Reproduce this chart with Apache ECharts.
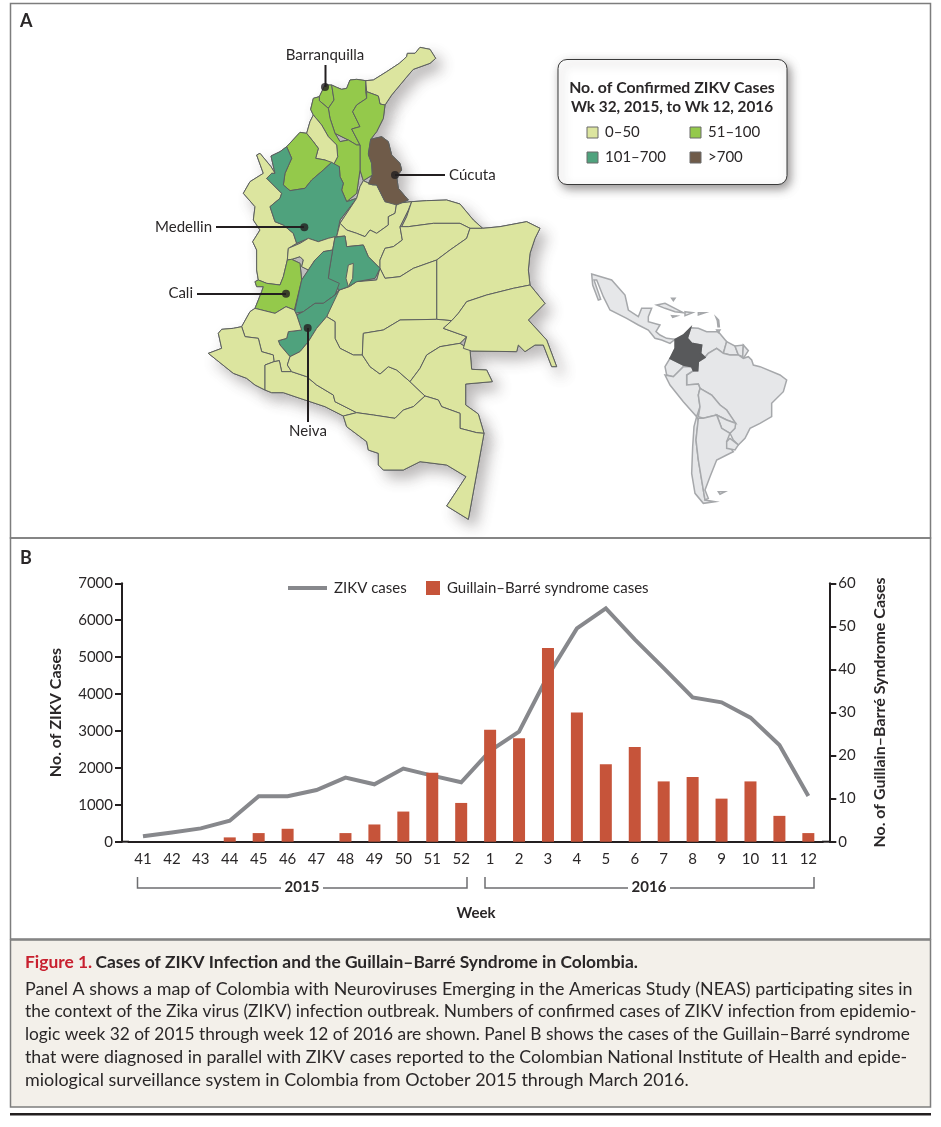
<!DOCTYPE html>
<html><head><meta charset="utf-8">
<style>html,body{margin:0;padding:0;background:#fff}#c{width:941px;height:1127px}</style>
<script src="https://cdn.jsdelivr.net/npm/echarts@6/dist/echarts.min.js"></script>
</head><body><div id="c"></div>
<script>
// ---- Panel B data
const weeks = ['41','42','43','44','45','46','47','48','49','50','51','52','1','2','3','4','5','6','7','8','9','10','11','12'];
const zikvCases = [145,250,360,570,1230,1230,1400,1735,1555,1980,1790,1610,2460,2980,4500,5780,6320,5480,4700,3910,3775,3360,2620,1240];
const gbsCases = [null,null,null,1,2,3,null,2,4,7,16,9,26,24,45,30,18,22,14,15,10,14,6,2];
const leftTicksMax = 7000, rightTicksMax = 60;
// ---- Panel A data
const bandLabels = ['0–50','51–100','101–700','>700'];
const bandColors = ['#dce59f','#94c94b','#4fa27d','#6f5b49'];
const departments = [
 ['La Guajira',0,[[497,152],[520,150],[560,125],[598,100],[620,80],[622,70],[645,70],[660,52],[690,58],[707,85],[690,100],[640,118],[625,135],[600,165],[575,195],[555,225],[540,222],[535,198],[500,185]]],
 ['Atlántico',1,[[358,200],[375,165],[395,165],[402,210],[385,235],[358,212]]],
 ['Magdalena',1,[[395,165],[410,172],[425,178],[440,175],[450,150],[470,148],[497,152],[497,185],[500,205],[470,225],[458,245],[480,290],[455,297],[480,345],[470,345],[445,330],[405,310],[390,265],[385,235],[402,210]]],
 ['Cesar',1,[[500,185],[535,198],[540,222],[555,225],[550,265],[530,305],[512,328],[505,370],[515,400],[517,435],[490,452],[480,420],[480,345],[455,297],[480,290],[458,245],[470,225],[500,205]]],
 ['Bolívar',1,[[358,200],[358,212],[385,235],[390,265],[405,310],[420,335],[445,330],[470,345],[480,345],[480,420],[470,490],[440,515],[425,480],[430,460],[420,440],[418,410],[400,405],[413,380],[410,345],[385,320],[365,285],[340,255],[332,238],[340,205]]],
 ['Sucre',0,[[340,255],[365,285],[385,320],[410,345],[413,380],[400,405],[375,390],[347,385],[355,355],[340,335],[320,310],[330,275]]],
 ['Córdoba',1,[[300,307],[320,310],[340,335],[355,355],[347,385],[375,390],[395,397],[370,420],[335,450],[315,475],[270,482],[250,465],[255,430],[275,385],[260,350]]],
 ['Chocó',0,[[170,375],[180,370],[213,410],[225,430],[215,430],[200,445],[245,490],[240,505],[210,530],[225,575],[250,585],[280,610],[290,640],[265,655],[262,690],[250,740],[240,765],[200,760],[175,750],[170,720],[170,660],[158,635],[180,600],[160,570],[165,530],[130,490],[150,455],[190,430]]],
 ['Antioquia',2,[[260,350],[275,385],[255,430],[250,465],[270,482],[315,475],[335,450],[370,420],[395,397],[418,410],[420,440],[430,460],[425,480],[440,515],[470,505],[420,570],[410,620],[385,625],[355,635],[325,625],[290,640],[280,610],[250,585],[225,575],[210,530],[240,505],[245,490],[200,445],[215,430],[225,430],[213,378],[240,365]]],
 ['Caldas',0,[[265,655],[300,640],[325,625],[355,635],[385,625],[405,620],[398,660],[370,665],[345,690],[325,720],[305,710],[310,690],[300,680],[275,688],[262,690]]],
 ['Valle del Cauca',1,[[262,690],[275,688],[300,700],[305,750],[283,840],[258,830],[225,850],[165,835],[185,785],[190,770],[170,770],[165,755],[175,750],[200,760],[240,765],[250,740]]],
 ['Santander',0,[[490,452],[517,465],[530,465],[555,515],[590,520],[585,550],[565,560],[565,585],[530,610],[510,600],[495,620],[470,610],[440,600],[420,580],[470,505],[480,470]]],
 ['Boyacá',0,[[590,520],[635,515],[625,540],[600,590],[607,630],[580,650],[555,655],[540,690],[540,715],[505,680],[490,645],[440,650],[435,618],[410,620],[420,580],[440,600],[470,610],[495,620],[510,600],[530,610],[565,585],[565,560],[585,550]]],
 ['Norte de Santander',3,[[545,320],[565,335],[575,375],[600,400],[605,420],[590,440],[595,475],[625,510],[590,525],[555,515],[530,465],[505,462],[517,435],[515,400],[505,375],[512,328]]],
 ['Arauca',0,[[635,515],[680,512],[740,510],[780,522],[820,570],[848,595],[810,595],[780,580],[700,580],[625,590],[605,590],[620,560]]],
 ['Casanare',0,[[605,590],[625,590],[700,580],[780,580],[810,595],[800,625],[750,660],[710,690],[640,715],[600,740],[555,745],[540,715],[540,690],[555,655],[580,650],[607,630],[600,590]]],
 ['Vichada',0,[[810,595],[848,595],[900,590],[980,575],[1020,595],[1005,625],[990,670],[985,720],[990,765],[940,775],[860,795],[800,815],[775,850],[755,872],[710,868],[710,690],[750,660],[800,625]]],
 ['Meta',0,[[530,750],[470,755],[448,770],[418,780],[405,795],[380,860],[405,875],[405,925],[420,955],[460,975],[487,975],[490,910],[550,900],[600,870],[710,868],[710,690],[640,715],[600,740],[555,745],[540,715]]],
 ['Cundinamarca',2,[[398,660],[405,622],[435,618],[440,650],[490,645],[505,680],[540,715],[525,745],[470,755],[445,770],[418,780],[385,745],[388,720]]],
 ['Bogotá',0,[[445,705],[460,700],[458,745],[445,770],[438,745]]],
 ['Tolima',2,[[345,690],[370,665],[398,660],[388,720],[385,745],[418,760],[405,795],[370,820],[345,820],[310,845],[283,850],[305,750],[325,720]]],
 ['Huila',2,[[370,820],[405,795],[418,780],[380,860],[350,895],[325,935],[300,965],[270,980],[240,945],[235,932],[260,925],[265,905],[305,900],[290,855],[310,845],[345,820]]],
 ['Cauca',0,[[165,835],[225,850],[258,830],[283,840],[290,855],[305,900],[265,905],[260,925],[235,932],[240,945],[270,980],[262,1005],[275,1025],[245,1025],[238,992],[222,995],[220,975],[185,965],[175,925],[135,920],[125,890],[150,845]]],
 ['Nariño',0,[[125,890],[135,920],[175,925],[185,965],[220,975],[222,995],[195,1005],[195,1080],[165,1065],[140,1045],[100,1030],[50,990],[25,970],[65,955],[55,910],[65,898],[100,895]]],
 ['Putumayo',0,[[195,1005],[222,995],[238,992],[245,1025],[275,1025],[320,1040],[350,1065],[400,1095],[405,1115],[470,1148],[430,1158],[375,1130],[330,1115],[285,1100],[250,1088],[215,1088],[195,1080]]],
 ['Caquetá',0,[[270,980],[300,965],[325,935],[350,895],[380,860],[405,875],[405,925],[420,955],[460,975],[487,975],[510,1010],[540,1032],[565,1010],[590,1020],[630,1055],[675,1098],[640,1130],[610,1140],[585,1165],[520,1155],[470,1148],[405,1115],[400,1095],[350,1065],[320,1040],[275,1025],[262,1005]]],
 ['Guaviare',0,[[490,910],[550,900],[600,870],[710,868],[755,872],[730,895],[800,920],[780,940],[720,950],[680,975],[660,1015],[630,1055],[590,1020],[565,1010],[540,1032],[510,1010],[487,975]]],
 ['Vaupés',0,[[630,1055],[660,1015],[680,975],[720,950],[780,940],[810,960],[815,1018],[860,1020],[877,1055],[797,1062],[797,1125],[835,1152],[852,1210],[830,1208],[780,1195],[780,1150],[725,1130],[715,1110],[675,1098]]],
 ['Guainía',0,[[755,872],[775,850],[800,815],[860,795],[940,775],[990,765],[1035,820],[985,870],[1040,930],[1070,1010],[1055,1010],[1030,945],[1005,945],[975,965],[955,945],[950,965],[815,963],[790,955],[800,920],[730,895]]],
 ['Amazonas',0,[[430,1158],[470,1148],[520,1155],[585,1165],[610,1140],[640,1130],[675,1098],[715,1110],[725,1130],[780,1150],[780,1195],[830,1208],[852,1210],[805,1468],[740,1428],[798,1340],[740,1305],[660,1295],[610,1320],[550,1320],[535,1305],[535,1270],[505,1260],[500,1235],[440,1190]]]
];
const cityNames = ['Barranquilla','Cúcuta','Medellin','Cali','Neiva'];
const cityPoints = [[375,171],[585,435],[313,592],[258,791],[323,894]];
const latam = [
 ['Mexico and Central America',[[65,42],[125,60],[165,105],[175,150],[205,170],[215,145],[245,145],[235,170],[235,185],[270,195],[258,215],[270,225],[290,235],[315,238],[300,250],[275,240],[255,235],[235,210],[205,195],[170,175],[120,150],[100,110],[80,60],[72,60],[92,118],[85,120],[68,75]]],
 ['Venezuela',[[362,203],[385,205],[410,215],[445,215],[470,245],[460,280],[440,265],[415,280],[405,292],[392,280],[395,255],[365,250],[352,235]]],
 ['Guyana',[[470,245],[495,258],[505,285],[480,285],[460,280]]],
 ['Suriname',[[495,258],[520,255],[518,290],[505,285]]],
 ['French Guiana',[[520,255],[535,272],[520,295],[518,290]]],
 ['Brazil',[[405,292],[415,280],[440,265],[460,280],[480,285],[505,285],[520,295],[535,290],[545,300],[550,315],[570,320],[630,345],[650,360],[640,395],[605,430],[605,470],[570,490],[540,505],[525,535],[505,555],[490,540],[480,520],[495,490],[470,450],[450,435],[425,405],[390,385],[385,372],[350,375],[350,345],[370,332],[383,332],[385,305]]],
 ['Ecuador',[[300,295],[340,315],[340,320],[310,350],[290,345],[285,320]]],
 ['Peru',[[285,345],[310,350],[340,320],[365,320],[370,332],[350,345],[350,375],[385,372],[390,385],[385,405],[390,440],[380,470],[340,425],[300,375]]],
 ['Bolivia',[[385,405],[390,385],[425,405],[450,435],[470,450],[497,490],[470,480],[440,465],[400,475],[385,470],[390,440]]],
 ['Paraguay',[[440,465],[470,480],[497,490],[495,505],[480,520],[455,505]]],
 ['Chile',[[380,470],[385,480],[378,540],[385,600],[395,660],[405,720],[435,725],[400,730],[375,700],[365,640],[368,560],[372,500]]],
 ['Argentina',[[385,475],[400,475],[440,465],[455,505],[480,520],[470,545],[478,560],[490,575],[470,585],[440,600],[420,650],[405,690],[415,715],[405,720],[395,660],[385,600],[378,540]]],
 ['Uruguay',[[480,535],[505,555],[495,570],[470,565],[470,545]]],
 ['Cuba',[[260,135],[285,130],[340,158],[315,155],[285,145]]],
 ['Hispaniola',[[345,155],[368,158],[345,167]]],
 ['Puerto Rico',[[385,158],[405,158],[385,165]]],
 ['Jamaica',[[305,167],[320,168],[308,172]]],
 ['Bahamas',[[305,115],[315,115],[310,122]]],
 ['Lesser Antilles',[[438,172],[446,180],[448,200],[444,200],[442,182]]],
 ['Trinidad',[[440,210],[450,210],[445,218]]],
 ['Falklands',[[445,695],[465,695],[450,703]]],
 ['Colombia',[[362,203],[352,235],[365,250],[395,255],[392,280],[405,292],[385,305],[383,332],[370,332],[365,320],[340,315],[300,295],[315,265],[315,238],[340,225]]]
];
const captionTitle = ['Figure 1.','Cases of ZIKV Infection and the Guillain–Barré Syndrome in Colombia.'];
const captionLines = [
 'Panel A shows a map of Colombia with Neuroviruses Emerging in the Americas Study (NEAS) participating sites in',
 'the context of the Zika virus (ZIKV) infection outbreak. Numbers of confirmed cases of ZIKV infection from epidemio-',
 'logic week 32 of 2015 through week 12 of 2016 are shown. Panel B shows the cases of the Guillain–Barré syndrome',
 'that were diagnosed in parallel with ZIKV cases reported to the Colombian National Institute of Health and epide-',
 'miological surveillance system in Colombia from October 2015 through March 2016.'
];
// the reference caption is justified: each line is fitted to its width
const captionFit = [1.016,0.985,0.984,1.008,1.02];
// ---- helpers
const fc = (list) => ({type:'FeatureCollection',features:list.map(d=>({type:'Feature',properties:{name:d.name},geometry:{type:'Polygon',coordinates:[d.ring.concat([d.ring[0]])]}}))});
echarts.registerMap('colombia', fc(departments.map(d=>({name:d[0],ring:d[2]}))));
echarts.registerMap('latam', fc(latam.map(d=>({name:d[0],ring:d[1]}))));
const identity = {project:p=>p, unproject:p=>p};
const FONT='Lato', INK='#2a2728';
const colBox = {left:0,top:0,width:941,height:1127,boundingCoords:[[-600,-90],[2223,3291]],projection:identity,aspectScale:1};
const latBox = {left:0,top:0,width:941,height:1127,boundingCoords:[[-1710,-780],[1113,2601]],projection:identity,aspectScale:1};
const txt=(text,x,y,size,opt={})=>({type:'text',x,y,z:60,silent:true,scaleX:opt.scaleX||1,style:{text,font:(opt.bold?'bold ':'')+size+'px '+FONT,fill:opt.fill||INK,align:opt.align||'left',verticalAlign:'middle'}});
const ln=(pts,w,color)=>({type:'polyline',z:55,silent:true,shape:{points:pts},style:{stroke:color,lineWidth:w,fill:null}});
const rect=(x,y,w,h,style,r,z)=>({type:'rect',z:z||40,silent:true,shape:{x,y,width:w,height:h,r:r||0},style});
const graphicEls=[
 // panel frames
 rect(10.5,3.5,920,534.5,{fill:'none',stroke:'#7d7d7d',lineWidth:1.5}),
 rect(10.5,538,920,401,{fill:'none',stroke:'#7d7d7d',lineWidth:1.5}),
 rect(10.5,940,920,167,{fill:'#f3f0ea',stroke:'#7d7d7d',lineWidth:1.5}),
 rect(10,1113,921,2.5,{fill:'#231f20'}),
 txt('A',20,21,18,{bold:true}), txt('B',20,558,18,{bold:true}),
 // map callouts
 txt(cityNames[0],325,55,15,{align:'center'}), ln([[325.5,65],[325.5,87]],2,'#231f20'),
 txt(cityNames[1],449,175,15), ln([[395,175],[445,175]],2,'#231f20'),
 txt(cityNames[2],212,227,15,{align:'right'}), ln([[216,227],[304,227]],2,'#231f20'),
 txt(cityNames[3],193,293,15,{align:'right'}), ln([[197,294],[286,294]],2,'#231f20'),
 txt(cityNames[4],308,431,15,{align:'center'}), ln([[308,328],[308,422]],2,'#231f20'),
 // map key
 rect(558,59.5,229,125,{fill:'#fff',stroke:'#3a3a3a',lineWidth:1,shadowBlur:10,shadowColor:'rgba(50,45,45,.5)',shadowOffsetX:3,shadowOffsetY:4},9,45),
 txt('No. of Confirmed ZIKV Cases',672,88,15.8,{bold:true,align:'center'}),
 txt('Wk 32, 2015, to Wk 12, 2016',672,107,15.3,{bold:true,align:'center'}),
 ...[[587,127],[690,127],[587,152],[690,152]].flatMap((p,i)=>[
   rect(p[0],p[1],11,11,{fill:bandColors[i],stroke:'#6a6a6a',lineWidth:1},0,55),
   txt(bandLabels[i],p[0]+18,p[1]+5.5,15)]),
 // bottom axis ends and year brackets
 rect(122,840.7,7,2,{fill:'#231f20'}), rect(822,840.7,8,2,{fill:'#231f20'}),
 ln([[137.5,877],[137.5,888],[281,888]],1.5,'#6d6e70'), ln([[323,888],[467,888],[467,877]],1.5,'#6d6e70'),
 ln([[485,877],[485,888],[628,888]],1.5,'#6d6e70'), ln([[670,888],[814,888],[814,877]],1.5,'#6d6e70'),
 txt('2015',302,887,15,{bold:true,align:'center'}), txt('2016',649,887,15,{bold:true,align:'center'}),
 txt('Week',476,913,15,{bold:true,align:'center'}),
 // caption
 {type:'text',x:25,y:962,z:60,silent:true,style:{text:'{r|'+captionTitle[0]+'} {b|'+captionTitle[1]+'}',verticalAlign:'middle',rich:{r:{font:'bold 17.4px '+FONT,fill:'#c8202f'},b:{font:'bold 17.4px '+FONT,fill:INK}}}},
 ...captionLines.map((t,i)=>txt(t,25,989+i*22.8,17.6,{scaleX:captionFit[i]}))
];
const axisLabel={margin:9,fontSize:15,color:INK,fontFamily:FONT,formatter:v=>String(v)};
const axisLine={show:true,lineStyle:{color:'#231f20',width:2}};
const axisTick={show:true,length:7,lineStyle:{color:'#231f20',width:2}};
const nameStyle={fontWeight:'bold',fontSize:16,color:INK,fontFamily:FONT};
const chart=echarts.init(document.getElementById('c'));
chart.setOption({
 animation:false,backgroundColor:'#fff',textStyle:{fontFamily:FONT},
 geo:Object.assign({map:'colombia',silent:true,roam:false,z:1,
   itemStyle:{areaColor:bandColors[0],borderColor:'#5d6060',borderWidth:1,shadowBlur:14,shadowColor:'rgba(70,60,60,.36)',shadowOffsetX:7,shadowOffsetY:8},
   emphasis:{disabled:true},select:{disabled:true},label:{show:false}},colBox),
 grid:{left:128.5,width:694.3,top:583.3,height:258.4},
 legend:[
  {data:['ZIKV cases'],left:288,top:580.5,padding:0,icon:'rect',itemWidth:39,itemHeight:4,itemGap:6,textStyle:{fontFamily:FONT,fontSize:15,color:INK,padding:[0,0,0,2]},selectedMode:false},
  {data:['Guillain–Barré syndrome cases'],left:426,top:580.5,padding:0,icon:'rect',itemWidth:14,itemHeight:14,textStyle:{fontFamily:FONT,fontSize:15,color:INK,padding:[0,0,0,2]},selectedMode:false}
 ],
 xAxis:{type:'category',data:weeks,axisLine:{lineStyle:{color:'#231f20',width:2}},axisTick:{alignWithLabel:true,length:8,lineStyle:{color:'#231f20',width:2}},axisLabel:{interval:0,margin:10,fontSize:15,color:INK,fontFamily:FONT}},
 yAxis:[
  {type:'value',min:0,max:leftTicksMax,interval:1000,offset:6.5,splitLine:{show:false},name:'No. of ZIKV Cases',nameLocation:'middle',nameGap:58,nameTextStyle:nameStyle,axisLine,axisTick,axisLabel},
  {type:'value',min:0,max:rightTicksMax,interval:10,position:'right',offset:6.5,splitLine:{show:false},name:'No. of Guillain–Barré Syndrome Cases',nameLocation:'middle',nameGap:43,nameTextStyle:nameStyle,axisLine,axisTick,axisLabel}
 ],
 series:[
  Object.assign({type:'map',map:'colombia',silent:true,roam:false,z:2,selectedMode:false,showLegendSymbol:false,emphasis:{disabled:true},label:{show:false},
    itemStyle:{borderColor:'#5d6060',borderWidth:1},
    data:departments.map(d=>({name:d[0],value:d[1],itemStyle:{areaColor:bandColors[d[1]]}}))},colBox),
  Object.assign({type:'map',map:'latam',silent:true,roam:false,z:2,selectedMode:false,showLegendSymbol:false,emphasis:{disabled:true},label:{show:false},
    itemStyle:{areaColor:'#e6e7e9',borderColor:'#a6a8ab',borderWidth:1.5},
    data:latam.map(d=>({name:d[0],value:1,itemStyle:d[0]==='Colombia'?{areaColor:'#58595b',borderColor:'#58595b'}:{}}))},latBox),
  {type:'scatter',coordinateSystem:'geo',geoIndex:0,z:5,silent:true,symbolSize:8,itemStyle:{color:'#231f20'},data:cityPoints},
  {type:'line',name:'ZIKV cases',data:zikvCases,yAxisIndex:0,z:3,showSymbol:false,silent:true,lineStyle:{color:'#87888c',width:4,join:'miter'},itemStyle:{color:'#87888c'}},
  {type:'bar',name:'Guillain–Barré syndrome cases',data:gbsCases,yAxisIndex:1,z:4,barWidth:12,silent:true,itemStyle:{color:'#c6543a'}}
 ],
 graphic:{elements:graphicEls}
});
</script></body></html>
